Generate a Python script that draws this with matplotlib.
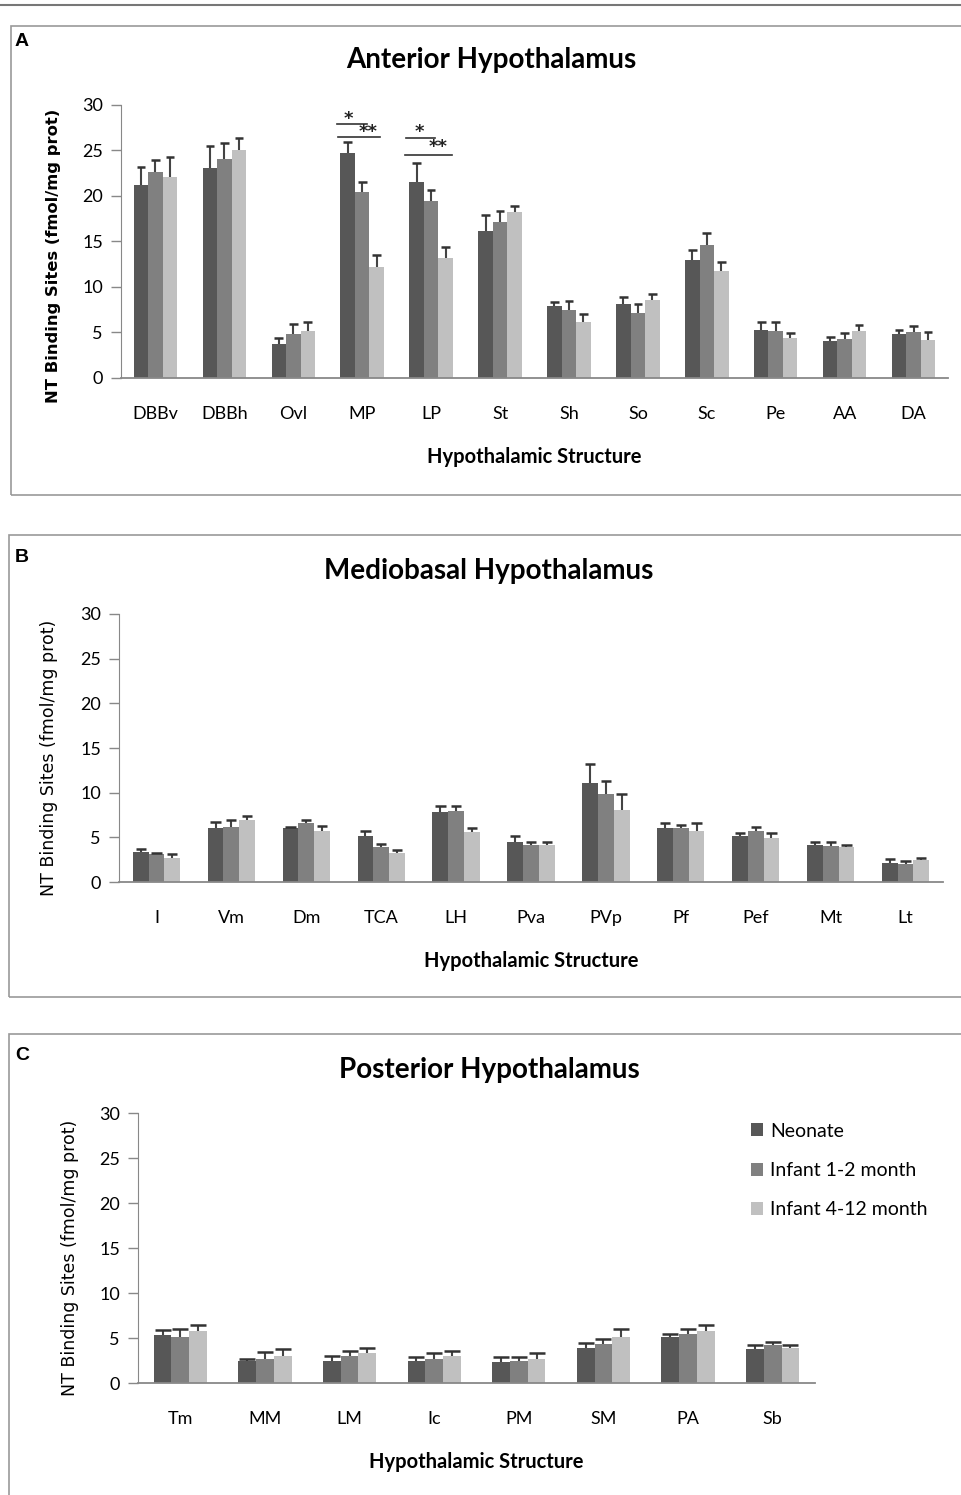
import numpy as np
import matplotlib
matplotlib.use("Agg")
import matplotlib.pyplot as plt
from matplotlib.lines import Line2D
from matplotlib.patches import Rectangle

# groups
groups = ["Neonate", "Infant 1-2 month", "Infant 4-12 month"]
colors = ["#575757", "#808080", "#c0c0c0"]

# panel A - anterior
cats_a = ["DBBv", "DBBh", "Ovl", "MP", "LP", "St", "Sh", "So", "Sc", "Pe", "AA", "DA"]
neo_a = [21.2, 23.1, 3.7, 24.7, 21.5, 16.1, 7.9, 8.1, 13.0, 5.3, 4.1, 4.8]
inf1_a = [22.6, 24.1, 4.8, 20.4, 19.4, 17.1, 7.5, 7.1, 14.6, 5.2, 4.3, 5.1]
inf2_a = [22.1, 25.1, 5.2, 12.2, 13.2, 18.2, 6.2, 8.6, 11.8, 4.4, 5.2, 4.2]
neo_a_err = [2.0, 2.4, 0.7, 1.2, 2.1, 1.8, 0.4, 0.8, 1.1, 0.8, 0.4, 0.5]
inf1_a_err = [1.4, 1.7, 1.1, 1.1, 1.3, 1.2, 0.9, 1.0, 1.3, 0.9, 0.6, 0.6]
inf2_a_err = [2.2, 1.3, 0.9, 1.3, 1.2, 0.7, 0.8, 0.6, 0.9, 0.5, 0.6, 0.8]

# panel B - mediobasal
cats_b = ["I", "Vm", "Dm", "TCA", "LH", "Pva", "PVp", "Pf", "Pef", "Mt", "Lt"]
neo_b = [3.4, 6.0, 6.0, 5.1, 7.8, 4.5, 11.1, 6.0, 5.1, 4.2, 2.1]
inf1_b = [3.1, 6.2, 6.6, 3.9, 8.0, 4.1, 9.9, 6.0, 5.7, 4.0, 2.0]
inf2_b = [2.7, 7.0, 5.7, 3.2, 5.6, 4.1, 8.1, 5.7, 4.9, 3.9, 2.5]
neo_b_err = [0.3, 0.7, 0.2, 0.6, 0.7, 0.6, 2.1, 0.6, 0.4, 0.3, 0.5]
inf1_b_err = [0.2, 0.7, 0.4, 0.4, 0.5, 0.4, 1.4, 0.4, 0.5, 0.5, 0.4]
inf2_b_err = [0.4, 0.4, 0.6, 0.4, 0.4, 0.4, 1.7, 0.9, 0.6, 0.3, 0.2]

# panel C - posterior
cats_c = ["Tm", "MM", "LM", "Ic", "PM", "SM", "PA", "Sb"]
neo_c = [5.3, 2.4, 2.4, 2.4, 2.3, 3.9, 5.1, 3.8]
inf1_c = [5.1, 2.7, 3.0, 2.7, 2.4, 4.3, 5.4, 4.2]
inf2_c = [5.8, 3.0, 3.3, 3.0, 2.7, 5.1, 5.8, 3.9]
neo_c_err = [0.6, 0.3, 0.6, 0.5, 0.6, 0.6, 0.4, 0.4]
inf1_c_err = [0.9, 0.7, 0.6, 0.6, 0.5, 0.6, 0.6, 0.4]
inf2_c_err = [0.7, 0.8, 0.6, 0.6, 0.6, 0.9, 0.7, 0.3]

cal = ["Lato", "DejaVu Sans"]
BW = 0.21

fig = plt.figure(figsize=(9.61, 14.95), dpi=100)


def draw_panel(rect, cats, vals, errs, ylabel_bold, ylab_xy, ylab_size):
    ax = fig.add_axes(rect)
    x = np.arange(len(cats))
    # caps are ~ half a bar wide
    cap = BW * 0.3 * 12 / len(cats)
    for i in range(3):
        v = np.array(vals[i])
        e = np.array(errs[i])
        xi = x + (i - 1) * BW
        ax.bar(xi, v, BW, color=colors[i], label=groups[i], zorder=2)
        # upper error bars only
        ax.vlines(xi, v, v + e, color="#444444", lw=1.5, zorder=3)
        ax.hlines(v + e, xi - cap, xi + cap, color="#333333", lw=1.8, zorder=3)
    ax.set_xlim(-0.5, len(cats) - 0.5)
    ax.set_ylim(0, 30)
    ax.set_yticks([0, 5, 10, 15, 20, 25, 30])
    ax.set_xticks(x)
    ax.set_xticklabels(cats, family=cal, fontsize=13)
    for lab in ax.get_yticklabels():
        lab.set_family(cal)
        lab.set_fontsize(13)
    ax.tick_params(axis="x", length=0, pad=20)
    ax.tick_params(axis="y", length=7, color="#888888", width=1, pad=6)
    for s in ["top", "right"]:
        ax.spines[s].set_visible(False)
    ax.spines["left"].set_color("#888888")
    ax.spines["bottom"].set_color("#888888")
    ax.spines["bottom"].set_linewidth(1.3)
    ax.set_xlabel("Hypothalamic Structure", family=cal, fontsize=14.5,
                  fontweight="bold", labelpad=18)
    ax.set_ylabel("NT Binding Sites (fmol/mg prot)", fontsize=ylab_size,
                  fontweight="bold" if ylabel_bold else "normal")
    ax.yaxis.set_label_coords(*ylab_xy)
    return ax


ax_a = draw_panel([0.1259, 0.7472, 0.8606, 0.1826], cats_a,
                  [neo_a, inf1_a, inf2_a], [neo_a_err, inf1_a_err, inf2_a_err],
                  True, (-0.073, 0.447), 11.8)
ax_b = draw_panel([0.1238, 0.4100, 0.8575, 0.1793], cats_b,
                  [neo_b, inf1_b, inf2_b], [neo_b_err, inf1_b_err, inf2_b_err],
                  False, (-0.074, 0.463), 12.5)
ax_c = draw_panel([0.1436, 0.0749, 0.7045, 0.1806], cats_c,
                  [neo_c, inf1_c, inf2_c], [neo_c_err, inf1_c_err, inf2_c_err],
                  False, (-0.087, 0.463), 12.5)

# significance marks on MP and LP: (line x0, x1, line y, star x, star y, text)
sig = [(2.64, 3.07, 27.9, 2.80, 28.45, "*"), (2.65, 3.26, 26.5, 3.09, 27.05, "**"),
       (3.64, 4.06, 26.4, 3.83, 27.05, "*"), (3.62, 4.30, 24.5, 4.10, 25.35, "**")]
for x0, x1, yl, xs, ys, s in sig:
    ax_a.plot([x0, x1], [yl, yl], color="#333333", lw=1.2, clip_on=False)
    ax_a.text(xs, ys, s, ha="center", va="center", fontsize=13,
              color="#222222", family="DejaVu Sans", fontweight="bold")

# legend on C
ax_c.legend(loc="upper left", bbox_to_anchor=(0.885, 1.015), frameon=False,
            prop=dict(family=cal, size=14), handlelength=0.65,
            handleheight=0.65, handletextpad=0.35, labelspacing=1.15,
            borderaxespad=0.3)

# titles and panel letters
fig.text(0.511, 1 - 60 / 1495, "Anterior Hypothalamus", ha="center", va="center",
         family=cal, fontsize=20, fontweight="bold")
fig.text(0.508, 1 - 571 / 1495, "Mediobasal Hypothalamus", ha="center", va="center",
         family=cal, fontsize=20, fontweight="bold")
fig.text(0.509, 1 - 1070 / 1495, "Posterior Hypothalamus", ha="center", va="center",
         family=cal, fontsize=20, fontweight="bold")
for ytop, letter in [(42, "A"), (557, "B"), (1056, "C")]:
    fig.text(15 / 961, 1 - ytop / 1495, letter, ha="left", va="center",
             fontsize=14, fontweight="bold", family=["Liberation Sans", "DejaVu Sans"])

# panel frames
fig.add_artist(Line2D([0, 1], [1 - 5 / 1495] * 2, color="#777777", lw=1.5))
frames = [(11, 26, 495), (9, 535, 997), (9, 1034, 1497)]
for xl, yt, yb in frames:
    fig.add_artist(Rectangle((xl / 961, 1 - yb / 1495), 1.0, (yb - yt) / 1495,
                             fill=False, edgecolor="#999999", lw=1.2))

fig.savefig("out.png", dpi=100)
